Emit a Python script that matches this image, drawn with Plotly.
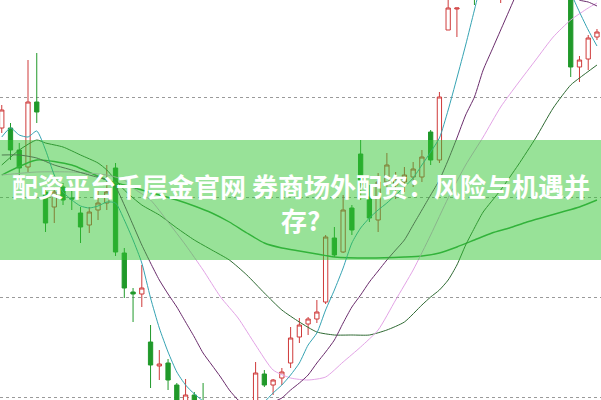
import plotly.graph_objects as go

# ---- candle data (index, open, high, low, close) ----
idx   = [0,1,2,3,4,5,6,7,8,9,10,11,12,13,14,15,16,17,18,19,20,21,22,23,
         29,30,31,32,33,34,35,36,37,38,39,40,41,42,43,44,45,46,47,48,49,50,51,52,54,57,65,66,67,68]
opens = [11.69,11.69,11.47,11.30,11.95,11.05,10.90,11.10,10.99,10.84,10.72,10.87,10.94,11.29,10.44,10.05,10.03,9.55,9.31,9.34,9.12,8.77,9.02,8.95,
         8.85,9.23,9.12,9.19,9.34,9.60,9.73,9.78,9.95,10.59,10.45,10.89,11.43,11.00,10.77,11.15,11.12,11.15,11.20,11.20,11.65,11.37,12.67,12.88,13.40,13.20,13.20,12.30,12.38,12.60]
highs = [11.92,11.74,11.54,12.37,12.44,11.10,11.10,11.14,11.07,10.90,10.90,11.07,11.32,11.34,10.49,10.09,10.32,9.72,9.47,9.38,9.14,9.18,9.05,9.14,
         9.35,9.27,9.18,9.29,9.70,9.79,9.80,9.97,10.62,10.70,11.02,10.92,11.57,11.12,11.24,11.44,11.25,11.30,11.35,11.47,11.67,12.05,13.05,12.89,13.50,13.50,13.30,12.41,12.62,12.68]
lows  = [11.64,11.37,11.22,11.25,11.74,10.65,10.74,10.92,10.87,10.54,10.64,10.77,10.87,10.41,9.99,9.75,9.90,9.09,9.17,9.07,8.82,8.72,8.70,8.75,
         8.80,9.10,9.02,9.12,9.29,9.54,9.62,9.74,9.93,10.40,10.44,10.62,10.97,10.75,10.65,11.05,10.98,11.05,11.10,11.15,11.32,11.34,12.67,12.60,12.92,12.94,12.20,12.15,12.27,12.57]
closes= [11.87,11.47,11.29,11.95,11.85,10.74,11.05,10.97,10.98,10.70,10.85,10.94,11.05,10.45,10.09,10.03,10.09,9.32,9.33,9.17,8.87,9.02,8.77,8.80,
         9.24,9.12,9.17,9.25,9.59,9.72,9.78,9.85,10.60,10.42,10.87,10.67,11.12,10.79,11.15,11.32,11.18,11.22,11.28,11.40,11.37,12.00,12.89,12.89,13.30,13.40,12.30,12.37,12.59,12.65]

# ---- moving average lines (index, value) ----
ma5_x = list(range(0, 69))
ma5_y = [11.60,11.69,11.62,11.60,11.66,11.47,11.22,11.05,10.97,10.91,10.89,10.91,10.95,10.94,10.77,10.57,10.34,9.99,9.69,9.45,
         9.25,9.12,9.03,8.96,8.89,8.85,8.82,8.81,8.83,8.87,8.95,9.04,9.12,9.22,9.34,9.52,9.64,9.87,10.07,10.29,
         10.54,10.69,10.79,10.87,10.94,11.02,11.10,11.19,11.32,11.45,11.59,11.87,12.19,12.52,12.87,13.22,13.50,13.70,13.80,13.80,
         13.70,13.60,13.50,13.45,13.37,13.05,12.85,12.67,12.51]

ma10_x = [0,2,4,6,8,10,12,13,14,15,16,17,18,19,20,21,22,23,24,25,26,27,28,29,30,31,32,33,34,35,36,37,38,39,40,41,42,43,44,45,46,47,48,49,50,
          51,52,53,54,55,56,57,58,59,60,61,62,63,64,65,66,67,68]
ma10_y = [11.42,11.42,11.39,11.32,11.27,11.22,11.17,11.10,10.92,10.72,10.52,10.34,10.17,10.03,9.90,9.75,9.60,9.44,9.32,9.20,9.07,8.97,8.91,8.89,
          8.91,8.95,8.99,9.07,9.14,9.22,9.34,9.45,9.57,9.74,9.90,10.02,10.15,10.26,10.37,10.47,10.57,10.72,10.87,11.02,11.17,
          11.37,11.59,11.82,12.00,12.27,12.47,12.67,12.87,13.07,13.25,13.35,13.40,13.35,13.20,13.05,12.97,12.95,12.91]

ma20_x = [0,4,8,12,14,15,17,19,21,23,25,27,29,31,33,35,37,39,41,43,45,47,49,51,53,55,57,59,61,63,65,67,68]
ma20_y = [11.22,11.25,11.25,11.22,11.17,11.09,10.97,10.75,10.52,10.27,10.00,9.79,9.52,9.27,9.19,9.17,9.20,9.35,9.50,9.67,
          9.97,10.27,10.62,10.99,11.32,11.60,11.90,12.14,12.37,12.60,12.77,12.89,12.94]

ma30_x = [0,2,4,5,7,9,11,12,14,16,18,20,22,24,26,28,30,32,34,36,38,40,42,44,46,48,49,50,51,52,53,54,55,57,59,61,63,65,66,68]
ma30_y = [11.32,11.47,11.57,11.54,11.50,11.42,11.34,11.27,11.07,10.92,10.82,10.69,10.57,10.47,10.37,10.22,10.04,9.87,9.75,9.65,
          9.62,9.62,9.62,9.67,9.75,9.92,10.00,10.07,10.17,10.32,10.52,10.69,10.85,11.07,11.32,11.59,11.89,12.12,12.19,12.32]

ma60_x = [0,4,8,12,14,16,18,20,22,24,26,28,30,32,34,36,38,42,46,48,50,52,54,56,58,60,62,64,66,68]
ma60_y = [11.22,11.37,11.32,11.17,11.12,11.07,11.02,10.97,10.91,10.84,10.75,10.64,10.54,10.49,10.46,10.43,10.40,10.39,10.40,10.41,
          10.44,10.50,10.57,10.64,10.69,10.75,10.80,10.85,10.90,10.97]

grid_vals = [9, 10, 11, 12]
title_line1 = "配资平台千层金官网 券商场外配资：风险与机遇并"
title_line2 = "存?"

RED = "#cf3a3a"
GREEN = "#20992a"

fig = go.Figure()
fig.add_trace(go.Candlestick(
    x=idx, open=opens, high=highs, low=lows, close=closes,
    increasing=dict(line=dict(color=RED, width=1), fillcolor="white"),
    decreasing=dict(line=dict(color=GREEN, width=1), fillcolor=GREEN),
    whiskerwidth=0, showlegend=False, hoverinfo="skip"))

for xs, ys, col, w in [(ma60_x, ma60_y, "#33a043", 1.4),
                       (ma30_x, ma30_y, "#2f6a33", 1.0),
                       (ma20_x, ma20_y, "#e3a3e6", 1.0),
                       (ma10_x, ma10_y, "#6a2c6c", 1.0),
                       (ma5_x, ma5_y, "#35a3b3", 1.0)]:
    fig.add_trace(go.Scatter(x=xs, y=ys, mode="lines",
                             line=dict(color=col, width=w, shape="spline", smoothing=0.6),
                             showlegend=False, hoverinfo="skip"))

fig.add_shape(type="rect", xref="paper", yref="paper", x0=0, x1=1, y0=0.35, y1=0.65,
              fillcolor="rgba(49,197,49,0.5)", line=dict(width=0), layer="above")

fig.add_annotation(xref="paper", yref="paper", x=0.5, y=(400-185)/400, text="<b>" + title_line1 + "</b>",
                   showarrow=False, font=dict(family="Noto Sans CJK SC", size=26, color="white"),
                   xanchor="center", yanchor="middle")
fig.add_annotation(xref="paper", yref="paper", x=0.5, y=(400-219)/400, text="<b>" + title_line2 + "</b>",
                   showarrow=False, font=dict(family="Noto Sans CJK SC", size=26, color="white"),
                   xanchor="center", yanchor="middle")

fig.update_layout(
    width=601, height=400, margin=dict(l=0, r=0, t=0, b=0),
    paper_bgcolor="white", plot_bgcolor="white", boxgap=0.3, hovermode=False,
    xaxis=dict(range=[-0.2, 68.46], showgrid=False, zeroline=False, showticklabels=False,
               rangeslider=dict(visible=False), fixedrange=True),
    yaxis=dict(range=[8.97, 12.97], tickvals=grid_vals, showticklabels=False, zeroline=False,
               gridcolor="#9a9a9a", griddash="dot", gridwidth=1, fixedrange=True),
)
fig.write_html("out.html", config={"displayModeBar": False, "staticPlot": True},
               post_script="document.body.style.margin='0';document.body.style.overflow='hidden';")
